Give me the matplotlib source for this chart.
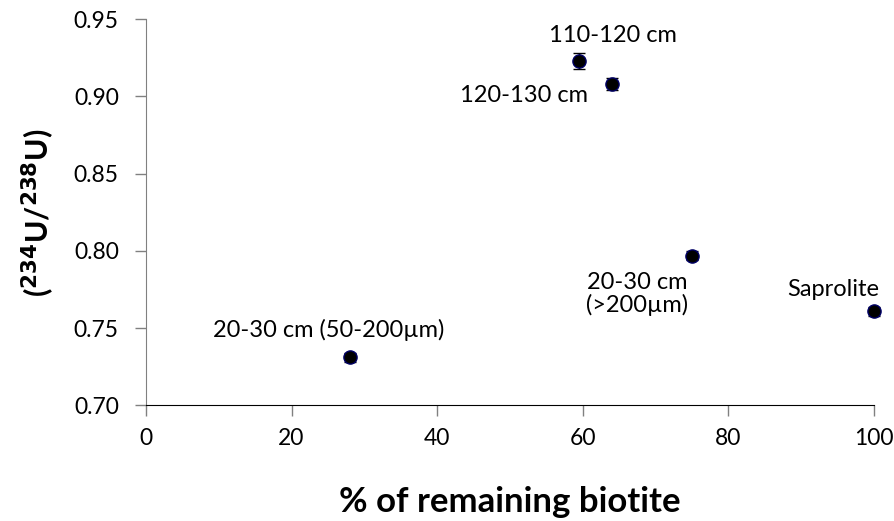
import matplotlib
matplotlib.use("Agg")
import matplotlib.pyplot as plt
from matplotlib.ticker import FormatStrFormatter

plt.rcParams['font.family'] = ['Lato', 'DejaVu Sans']

# data
biotite = [28, 59.5, 64, 75, 100]
ratio = [0.731, 0.923, 0.908, 0.797, 0.761]
ratio_err = [0.003, 0.005, 0.004, 0.003, 0.003]
labels = ["20-30 cm (50-200µm)", "110-120 cm", "120-130 cm",
          "20-30 cm\n(>200µm)", "Saprolite"]

fig = plt.figure(figsize=(8.95, 5.21), dpi=100)
ax = fig.add_axes([0.163, 0.222, 0.8135, 0.741])

ax.errorbar(biotite, ratio, yerr=ratio_err, fmt='o', color='black',
            markersize=9.5, markerfacecolor='black', markeredgecolor='#000066',
            markeredgewidth=1, ecolor='black', elinewidth=1, capsize=4.5,
            capthick=1.5, clip_on=False, zorder=3)

# label offsets in points from each point
offsets = [(-15, 12, 'center', 'bottom'),
           (24.5, 11, 'center', 'bottom'),
           (-17, -8, 'right', 'center'),
           (-39.5, -11.5, 'center', 'top'),
           (-29, 8, 'center', 'bottom')]
for x, y, lab, (dx, dy, ha, va) in zip(biotite, ratio, labels, offsets):
    ax.annotate(lab, (x, y), xytext=(dx, dy), textcoords='offset points',
                ha=ha, va=va, fontsize=17, linespacing=1.05)

ax.set_xlim(0, 100)
ax.set_ylim(0.70, 0.95)
ax.set_xticks([0, 20, 40, 60, 80, 100])
ax.set_yticks([0.70, 0.75, 0.80, 0.85, 0.90, 0.95])
ax.yaxis.set_major_formatter(FormatStrFormatter('%.2f'))
ax.tick_params(labelsize=16.5, length=8, width=1, direction='out')
ax.tick_params(axis='y', colors='#808080', labelcolor='black', pad=11.5)
ax.tick_params(axis='x', colors='#808080', labelcolor='black', pad=8)
ax.spines['top'].set_visible(False)
ax.spines['right'].set_visible(False)
ax.spines['left'].set_color('#808080')
ax.spines['bottom'].set_color('black')

ax.set_xlabel('% of remaining biotite', fontsize=25, fontweight='bold', labelpad=27)
ax.set_ylabel(r'($\mathbf{^{234}}$U/$\mathbf{^{238}}$U)', fontsize=22,
              fontweight='bold', labelpad=12)

fig.savefig('out.png', dpi=100)
